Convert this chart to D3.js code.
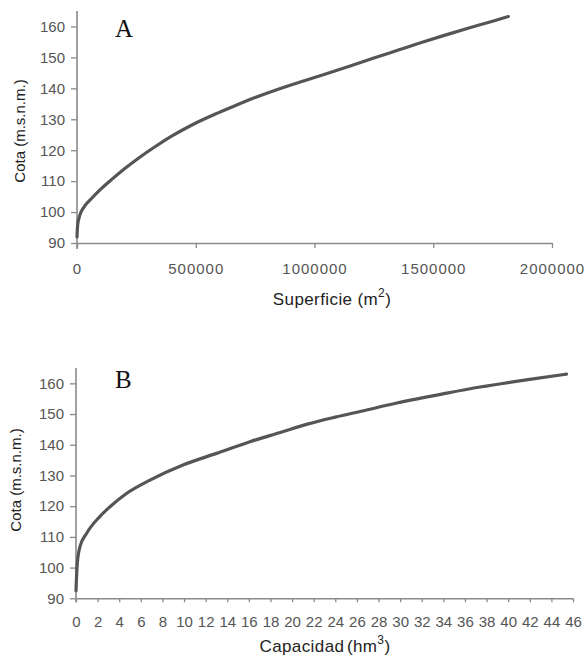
<!DOCTYPE html>
<html><head><meta charset="utf-8">
<script src="https://cdn.jsdelivr.net/npm/d3@7"></script>
<style>
html,body{margin:0;padding:0;background:#fff;}
svg{display:block;}
.tick text{font-family:"Liberation Sans",Arial,sans-serif;}
</style></head>
<body>
<svg id="c" width="585" height="660"></svg>
<script>
// Chart A: Superficie (m2) vs Cota
const superficieA = [0, 3000, 12000, 30000, 60000, 100000, 150000, 200000, 260000, 330000, 400000, 490000, 580000, 660000, 750000, 850000, 950000, 1050000, 1150000, 1250000, 1350000, 1450000, 1550000, 1650000, 1750000, 1816000];
const cotaA =       [92, 96, 99, 101.7, 104.3, 107.4, 110.8, 114, 117.5, 121.2, 124.6, 128.4, 131.6, 134.2, 137, 139.8, 142.3, 144.7, 147.2, 149.8, 152.3, 154.8, 157.2, 159.5, 161.7, 163.2];
const xTicksA = [0, 500000, 1000000, 1500000, 2000000];
const yTicks = [90, 100, 110, 120, 130, 140, 150, 160];

// Chart B: Capacidad (hm3) vs Cota
const capacidadB = [0, 0.05, 0.12, 0.37, 0.99, 2.2, 3.15, 4.7, 6.85, 9.9, 13.0, 16.1, 18.9, 21.5, 24.0, 26.5, 29.7, 34.3, 37.4, 42.0, 45.4];
const cotaB =      [92.5, 97, 101.4, 106.8, 111.2, 116.6, 119.8, 124.2, 128.5, 133.4, 137.2, 141.0, 144.0, 146.8, 149.0, 151.0, 153.6, 156.8, 158.8, 161.3, 163.0];
const xTicksB = d3.range(0, 47, 2);

const svg = d3.select("#c");
const axisColor = "#8a8a8a";
const tickTextColor = "#555";
const lineColor = "#555";

function panel(cfg){
  const g = svg.append("g");
  const x = d3.scaleLinear().domain(cfg.xDomain).range(cfg.xRange);
  const y = d3.scaleLinear().domain([90, 165]).range(cfg.yRange);
  const xa = g.append("g").attr("transform", `translate(0,${y(90)})`)
    .call(d3.axisBottom(x).tickValues(cfg.xTicks).tickSize(cfg.xTickSize).tickPadding(cfg.xPad).tickSizeOuter(0).tickFormat(d3.format("d")));
  xa.select(".domain").attr("stroke", axisColor).attr("stroke-width", 1.6);
  xa.selectAll(".tick line").attr("stroke", axisColor).attr("stroke-width", 1.3);
  xa.selectAll(".tick text").attr("fill", tickTextColor).attr("font-size", cfg.xFont).attr("letter-spacing", cfg.xLs);
  const ya = g.append("g").attr("transform", `translate(${x(0)},0)`)
    .call(d3.axisLeft(y).tickValues(yTicks).tickSize(6).tickPadding(6).tickSizeOuter(0));
  ya.select(".domain").attr("stroke", axisColor).attr("stroke-width", 1.6)
    .attr("d", `M0,${cfg.yRange[1]}V${y(90) + cfg.yExt}`);
  ya.selectAll(".tick line").attr("stroke", axisColor).attr("stroke-width", 1.3);
  ya.selectAll(".tick text").attr("fill", tickTextColor).attr("font-size", 15);
  const pts = cfg.xs.map((v, i) => [v, cfg.ys[i]]);
  g.append("path").datum(pts)
    .attr("fill", "none").attr("stroke", lineColor).attr("stroke-width", 3.2)
    .attr("stroke-linejoin", "round").attr("stroke-linecap", "round")
    .attr("d", d3.line().x(d => x(d[0])).y(d => y(d[1])).curve(d3.curveMonotoneX));
  g.append("text").attr("x", cfg.letterX).attr("y", cfg.letterY)
    .attr("font-family", "'Liberation Serif','Times New Roman',serif").attr("font-size", 25)
    .attr("fill", "#111").text(cfg.letter);
  g.append("text").attr("transform", `translate(${cfg.yTitleX},${cfg.yTitleY}) rotate(-90)`)
    .attr("text-anchor", "middle").attr("font-family", "'Liberation Sans',Arial,sans-serif")
    .attr("font-size", 15).attr("fill", "#222").text("Cota (m.s.n.m.)");
  const t = g.append("text").attr("x", cfg.xTitleX).attr("y", cfg.xTitleY)
    .attr("text-anchor", "middle").attr("font-family", "'Liberation Sans',Arial,sans-serif")
    .attr("font-size", 17).attr("letter-spacing", 0.4).attr("fill", "#222");
  t.append("tspan").text(cfg.xTitle);
  t.append("tspan").attr("dx", cfg.gap).text("(" + cfg.unitBase);
  t.append("tspan").attr("font-size", 12).attr("dy", -8).text(cfg.unitExp);
  t.append("tspan").attr("dy", 8).text(")");
}

panel({
  xDomain: [0, 2000000], xRange: [77, 552], yRange: [243, 11],
  xTicks: xTicksA, xTickSize: 5, xPad: 15, xFont: 15, xLs: 1,
  xs: superficieA, ys: cotaA, yExt: 6,
  letter: "A", letterX: 115, letterY: 37,
  yTitleX: 25, yTitleY: 131,
  xTitle: "Superficie", gap: 5, unitBase: "m", unitExp: "2", xTitleX: 332, xTitleY: 305
});

panel({
  xDomain: [0, 46], xRange: [76, 573], yRange: [598.3, 368],
  xTicks: xTicksB, xTickSize: 4, xPad: 14, xFont: 15, xLs: 0,
  xs: capacidadB, ys: cotaB, yExt: 4,
  letter: "B", letterX: 115, letterY: 388,
  yTitleX: 21, yTitleY: 480,
  xTitle: "Capacidad", gap: 2.5, unitBase: "hm", unitExp: "3", xTitleX: 325, xTitleY: 652
});
</script>
</body></html>
